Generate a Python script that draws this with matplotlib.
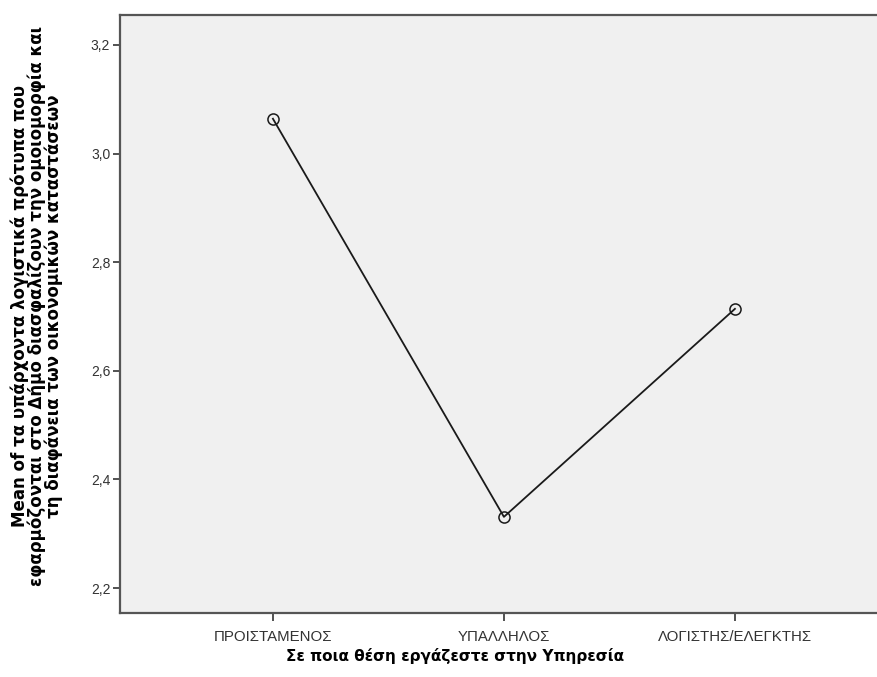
import numpy as np
import matplotlib
matplotlib.use('Agg')
import matplotlib.pyplot as plt
from matplotlib.ticker import FuncFormatter

plt.rcParams['font.family'] = ['Liberation Sans', 'DejaVu Sans']

# data
categories = ['ΠΡΟΙΣΤΑΜΕΝΟΣ', 'ΥΠΑΛΛΗΛΟΣ', 'ΛΟΓΙΣΤΗΣ/ΕΛΕΓΚΤΗΣ']
means = [3.064, 2.331, 2.714]
yticks = [2.2, 2.4, 2.6, 2.8, 3.0, 3.2]

ylabel = ('Mean of τα υπάρχοντα λογιστικά πρότυπα που\n'
          'εφαρμόζονται στο Δήμο διασφαλίζουν την ομοιομορφία και\n'
          'τη διαφάνεια των οικονομικών καταστάσεων')
xlabel = 'Σε ποια θέση εργάζεστε στην Υπηρεσία'

fig = plt.figure(figsize=(8.77, 6.77), dpi=100)
ax = fig.add_axes([120 / 877, 1 - 613 / 677, 757 / 877, 598 / 677])
ax.set_facecolor('#f0f0f0')

x = np.arange(len(categories))
ax.plot(x, means, color='#1a1a1a', lw=1.3, marker='o', ms=8,
        mfc='none', mec='#1a1a1a', mew=1.1)

ax.set_xlim(-0.662, 2.615)
ax.set_ylim(2.154, 3.255)
ax.set_xticks(x)
ax.set_xticklabels(categories, fontsize=10.8, color='#222222')
ax.set_yticks(yticks)
ax.yaxis.set_major_formatter(FuncFormatter(lambda v, p: ('%.1f' % v).replace('.', ',')))
ax.tick_params(axis='y', labelsize=10, colors='#333333', length=5, width=1.2, pad=2)
ax.tick_params(axis='x', colors='#333333', length=6, width=1.2, pad=6)
for lbl in ax.get_yticklabels():
    lbl.set_color('#333333')

for s in ['top', 'left', 'bottom']:
    ax.spines[s].set_color('#555555')
    ax.spines[s].set_linewidth(1.6)
ax.spines['right'].set_visible(False)

fig.text(455 / 877, 1 - 656 / 677, xlabel, ha='center', va='center',
         fontsize=11, fontweight='bold', family='DejaVu Sans')
fig.text(37 / 877, 1 - 306 / 677, ylabel, rotation=90, ha='center', va='center',
         fontsize=12, fontweight='bold', family='DejaVu Sans', linespacing=0.88)

fig.savefig('out.png', dpi=100)
